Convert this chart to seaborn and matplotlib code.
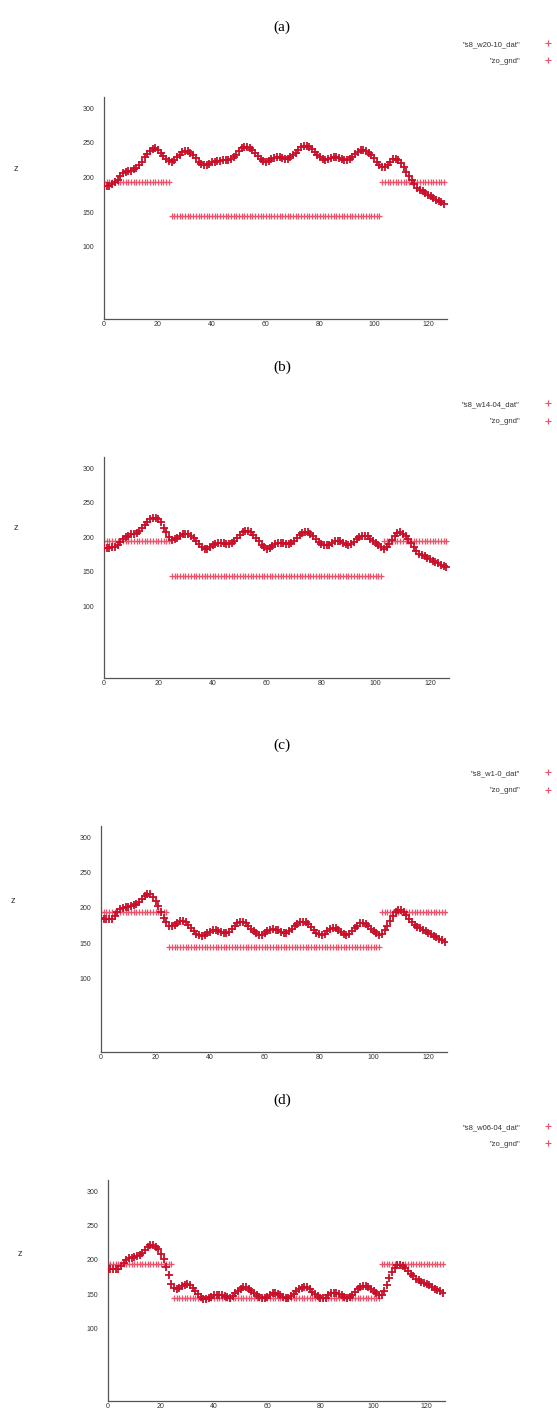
import numpy as np
import pandas as pd
import matplotlib
matplotlib.use("Agg")
import matplotlib.pyplot as plt
import seaborn as sns

# ---------------- data ----------------
x_idx = list(range(127))  # sample index 0..126

labels_panel = ["(a)", "(b)", "(c)", "(d)"]
dat_names = ['"s8_w20-10_dat"', '"s8_w14-04_dat"', '"s8_w1-0_dat"', '"s8_w06-04_dat"']
gnd_name = '"zo_gnd"'

# ground-truth step profile (zo_gnd)
gnd_z = [194] * 25 + [144] * 78 + [194] * 24

dat_a = [187, 187, 188, 190, 193, 197, 202, 206, 208, 209,
         210, 212, 214, 218, 223, 229, 234, 238, 241, 242,
         240, 236, 231, 227, 224, 223, 225, 229, 233, 237,
         238, 238, 236, 232, 228, 223, 220, 218, 218, 220,
         222, 223, 224, 224, 225, 225, 225, 226, 229, 233,
         238, 242, 244, 244, 242, 239, 235, 231, 227, 224,
         223, 224, 226, 228, 229, 229, 228, 227, 227, 229,
         232, 236, 240, 244, 246, 246, 244, 241, 237, 233,
         229, 226, 225, 226, 228, 229, 229, 228, 226, 225,
         225, 227, 230, 234, 237, 239, 239, 238, 235, 232,
         228, 223, 218, 215, 215, 218, 223, 226, 227, 225,
         221, 215, 208, 202, 197, 190, 185, 182, 180, 177,
         175, 173, 171, 168, 166, 164, 162]

dat_b = [184, 184, 184, 185, 186, 189, 193, 197, 200, 202,
         204, 205, 206, 209, 213, 217, 222, 226, 228, 228,
         226, 222, 214, 207, 200, 196, 197, 199, 202, 204,
         205, 205, 202, 199, 195, 190, 186, 183, 183, 185,
         188, 190, 191, 191, 191, 190, 190, 192, 195, 199,
         203, 207, 209, 209, 207, 203, 199, 194, 189, 185,
         183, 184, 187, 190, 192, 192, 191, 190, 190, 192,
         195, 199, 203, 206, 207, 207, 205, 201, 197, 193,
         190, 188, 188, 189, 192, 194, 195, 194, 192, 190,
         189, 190, 193, 197, 200, 202, 202, 201, 198, 195,
         192, 188, 185, 183, 185, 190, 196, 202, 206, 207,
         205, 202, 198, 192, 185, 180, 176, 174, 172, 170,
         168, 166, 164, 162, 160, 158, 156]

dat_c = [186, 185, 184, 184, 185, 189, 194, 198, 200, 201,
         202, 203, 204, 206, 209, 213, 217, 220, 220, 216,
         210, 203, 194, 186, 180, 175, 174, 176, 179, 181,
         181, 180, 176, 171, 167, 163, 161, 160, 161, 164,
         166, 168, 168, 167, 166, 165, 164, 166, 170, 174,
         178, 180, 180, 178, 174, 170, 167, 164, 162, 162,
         164, 167, 169, 170, 169, 168, 166, 165, 165, 167,
         170, 174, 177, 180, 180, 180, 177, 173, 169, 165,
         163, 162, 163, 167, 170, 171, 171, 169, 166, 163,
         162, 163, 167, 171, 175, 178, 178, 177, 174, 170,
         167, 164, 162, 163, 168, 175, 182, 189, 194, 197,
         197, 194, 190, 185, 180, 176, 173, 171, 169, 167,
         165, 163, 160, 158, 156, 154, 152]

dat_d = [187, 186, 186, 186, 187, 191, 196, 200, 202, 203,
         204, 205, 207, 210, 214, 219, 221, 221, 219, 216,
         209, 201, 190, 178, 165, 159, 158, 159, 162, 164,
         165, 163, 159, 155, 150, 146, 143, 143, 144, 146,
         148, 149, 149, 148, 147, 146, 145, 147, 151, 155,
         158, 160, 160, 158, 155, 152, 149, 146, 144, 144,
         146, 149, 151, 151, 150, 148, 146, 145, 145, 147,
         150, 154, 157, 159, 160, 160, 157, 153, 150, 147,
         144, 144, 145, 148, 151, 152, 152, 150, 148, 146,
         145, 146, 149, 153, 157, 160, 162, 162, 160, 157,
         154, 151, 149, 148, 155, 164, 174, 182, 188, 192,
         193, 191, 188, 184, 180, 176, 172, 170, 168, 166,
         165, 163, 160, 158, 156, 154, 152]

dat_series = [dat_a, dat_b, dat_c, dat_d]

x_ticks = [0, 20, 40, 60, 80, 100, 120]
y_ticks = [100, 150, 200, 250, 300]

# ---------------- layout (pixels) ----------------
W, H = 557, 1409
# left, top, right, bottom of each axes in pixels; title y; z-label position
rects = [(104, 96.5, 446.9, 319.4), (104, 456.6, 449, 678.3),
         (101, 825.7, 447.4, 1052.1), (107.7, 1179.5, 445.3, 1400.5)]
title_y = [27, 367, 745, 1100]
zlab_pos = [(16, 173), (16, 532), (13, 905), (20, 1258)]
XLIM = (0, 127)
YLIM = (-5, 317)

sns.set_theme(style="white")
plt.rcParams['font.family'] = ['Liberation Sans', 'DejaVu Sans']

fig = plt.figure(figsize=(W / 100, H / 100), dpi=100)

dat_color = "#c8102a"
gnd_color = "#f0506a"

for i in range(4):
    l, t, r, b = rects[i]
    ax = fig.add_axes([l / W, 1 - b / H, (r - l) / W, (b - t) / H])
    df_g = pd.DataFrame({"x": x_idx, "z": gnd_z})
    df_d = pd.DataFrame({"x": x_idx, "z": dat_series[i]})
    sns.scatterplot(data=df_g, x="x", y="z", ax=ax, marker="+", color=gnd_color,
                    s=20, linewidth=0.9, legend=False, zorder=2)
    sns.scatterplot(data=df_d, x="x", y="z", ax=ax, marker="+", color=dat_color,
                    s=26, linewidth=1.3, legend=False, zorder=3)
    ax.set_xlim(*XLIM)
    ax.set_ylim(*YLIM)
    ax.set_xticks(x_ticks)
    ax.set_yticks(y_ticks)
    ax.set_xlabel("")
    ax.set_ylabel("z", rotation=0, fontsize=6.5, color="#333333")
    zx, zy = zlab_pos[i]
    ax.yaxis.set_label_coords((zx - l) / (r - l), (b - zy) / (b - t))
    for side in ["top", "right"]:
        ax.spines[side].set_visible(False)
    for side in ["left", "bottom"]:
        ax.spines[side].set_color("#555555")
        ax.spines[side].set_linewidth(0.9)
    ax.tick_params(axis="both", direction="in", length=3, width=0.7,
                   colors="#555555", labelsize=5, labelcolor="#333333")
    ax.tick_params(axis="x", pad=1.5)
    ax.tick_params(axis="y", pad=7)
    ax.grid(False)
    ax.set_facecolor("white")

    # legend (gnuplot style: text then marker)
    h1 = plt.Line2D([], [], linestyle="none", marker="+", color=gnd_color,
                    markersize=4, markeredgewidth=0.8)
    h2 = plt.Line2D([], [], linestyle="none", marker="+", color=gnd_color,
                    markersize=4, markeredgewidth=0.8)
    leg_top = t - 56
    fig.legend([h1, h2], [dat_names[i], gnd_name], loc="upper right",
               bbox_to_anchor=(552 / W, 1 - leg_top / H),
               bbox_transform=fig.transFigure, markerfirst=False, frameon=False,
               fontsize=5.5, handlelength=1.0, handletextpad=3.2,
               labelspacing=1.3, borderpad=0, borderaxespad=0,
               labelcolor="#333333")

    fig.text(282 / W, 1 - title_y[i] / H, labels_panel[i], ha="center", va="center",
             family=["Liberation Serif", "DejaVu Serif"], fontsize=11, color="black")

fig.savefig("out.png", dpi=100, facecolor="white")
